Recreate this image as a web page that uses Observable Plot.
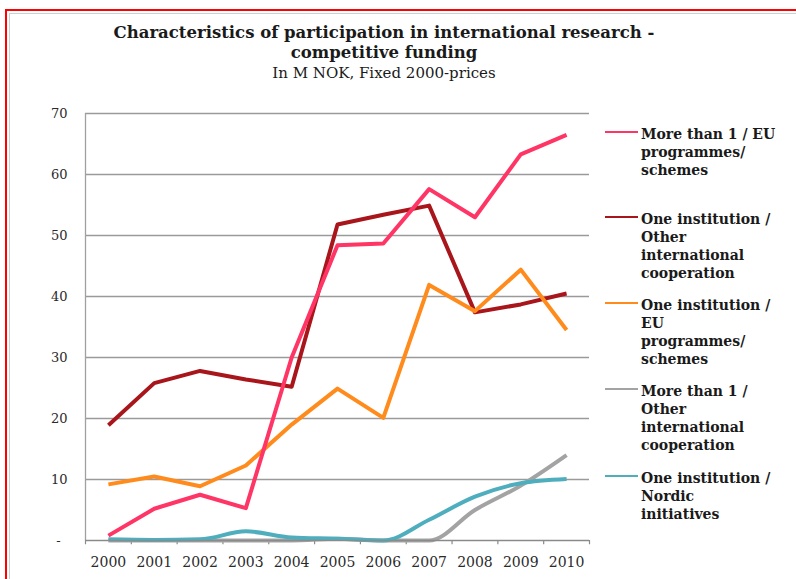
<!DOCTYPE html>
<html>
<head>
<meta charset="utf-8">
<script src="https://cdn.jsdelivr.net/npm/d3@7"></script>
<script src="https://cdn.jsdelivr.net/npm/@observablehq/plot@0.6"></script>
<style>
  html, body { margin: 0; padding: 0; background: #fff; }
  #wrap { position: relative; width: 796px; height: 579px; overflow: hidden; background: #fff; }
  #red { position: absolute; left: 5px; top: 9px; width: 900px; height: 700px; border-top: 2px solid #ff0000; border-left: 2px solid #ff0000; }
  #inner { position: absolute; left: 9px; top: 13px; width: 900px; height: 700px; border-top: 1px solid #c9d2d2; border-left: 1px solid #c9d2d2; }
  #chart { position: absolute; left: 0; top: 0; }
  .t { position: absolute; left: 0; width: 768px; text-align: center; font-family: "DejaVu Serif", serif; color: #1a1a1a; white-space: nowrap; }
  .title { font-weight: bold; font-size: 16.5px; }
  .sub { font-size: 15px; }
  .leg { position: absolute; left: 641px; font-family: "DejaVu Serif", serif; font-weight: bold; font-size: 14px; line-height: 18px; color: #1a1a1a; white-space: nowrap; }
  .legline { position: absolute; left: 605px; width: 33px; height: 2px; }
</style>
</head>
<body>
<div id="wrap">
  <div id="red"></div>
  <div id="inner"></div>
  <div id="chart"></div>
  <div class="t title" style="top:23px;">Characteristics of participation in international research -</div>
  <div class="t title" style="top:43px;">competitive funding</div>
  <div class="t sub" style="top:64px;">In M NOK, Fixed 2000-prices</div>
  <div id="legend"></div>
</div>
<script>
const years = [2000, 2001, 2002, 2003, 2004, 2005, 2006, 2007, 2008, 2009, 2010];
const seriesNames = [
  "More than 1 / EU programmes/ schemes",
  "One institution / Other international cooperation",
  "One institution / EU programmes/ schemes",
  "More than 1 / Other international cooperation",
  "One institution / Nordic initiatives"
];
const legendLines = [
  ["More than 1 / EU", "programmes/", "schemes"],
  ["One institution /", "Other", "international", "cooperation"],
  ["One institution /", "EU", "programmes/", "schemes"],
  ["More than 1 /", "Other", "international", "cooperation"],
  ["One institution /", "Nordic", "initiatives"]
];
const moreThan1EU      = [0.8, 5.2, 7.5, 5.3, 30.0, 48.4, 48.7, 57.6, 53.0, 63.3, 66.5];
const oneInstOther     = [18.9, 25.8, 27.8, 26.4, 25.2, 51.8, 53.4, 54.9, 37.4, 38.7, 40.5];
const oneInstEU        = [9.2, 10.5, 8.9, 12.3, 19.0, 24.9, 20.1, 41.9, 37.6, 44.4, 34.5];
const moreThan1Other   = [0, 0, 0, 0, 0, 0.3, 0, 0, 5.0, 9.0, 14.0];
const oneInstNordic    = [0.2, 0.1, 0.2, 1.5, 0.5, 0.3, 0.0, 3.4, 7.2, 9.4, 10.1];
const seriesValues = [moreThan1EU, oneInstOther, oneInstEU, moreThan1Other, oneInstNordic];
const colors = ["#ff3566", "#a8151b", "#ff8b1c", "#a3a3a3", "#4eaebd"];
const yTicks = [0, 10, 20, 30, 40, 50, 60, 70];
const yTickLabels = ["-", "10", "20", "30", "40", "50", "60", "70"];
const bandEdges = [1999.5, 2000.5, 2001.5, 2002.5, 2003.5, 2004.5, 2005.5, 2006.5, 2007.5, 2008.5, 2009.5, 2010.5];

const rows = (i) => years.map((yr, j) => ({year: yr, value: seriesValues[i][j], series: seriesNames[i]}));
const drawOrder = [1, 2, 0, 3, 4];
const lineMarks = drawOrder.map(i => Plot.line(rows(i), {
  x: "year", y: "value", stroke: colors[i], strokeWidth: 4,
  curve: i >= 3 ? "monotone-x" : "linear", strokeLinejoin: "round", strokeLinecap: "butt"
}));

const font = "DejaVu Serif, serif";
const chart = Plot.plot({
  width: 796,
  height: 579,
  marginLeft: 85,
  marginRight: 207,
  marginTop: 113,
  marginBottom: 39,
  style: {background: "transparent", fontFamily: font},
  x: {domain: [1999.5, 2010.5], axis: null},
  y: {domain: [0, 70], axis: null},
  marks: [
    Plot.ruleY(yTicks.filter(d => d > 0), {x1: 1999.5, x2: 2010.5, stroke: "#9a9a9a", strokeWidth: 1.3}),
    Plot.ruleX([1999.5], {y1: 0, y2: 70, stroke: "#a0a0a0", strokeWidth: 1.3}),
    Plot.ruleX(bandEdges, {y1: 0, y2: -0.7, stroke: "#8a8a8a", strokeWidth: 1.2}),
    ...lineMarks,
    Plot.ruleY([0], {x1: 1999.5, x2: 2010.5, stroke: "#8a8a8a", strokeWidth: 1.5}),
    Plot.text(years, {x: d => d, y: 0, dy: 22, text: d => String(d), fontSize: 14, fill: "#2a2a2a", fontFamily: font}),
    Plot.text(yTicks.filter(d => d > 0), {x: 1999.5, y: d => d, dx: -18, text: d => yTickLabels[yTicks.indexOf(d)], textAnchor: "end", fontSize: 13, fill: "#2a2a2a", fontFamily: font}),
    Plot.text([0], {x: 1999.5, y: d => d, dx: -27, text: d => yTickLabels[0], textAnchor: "middle", fontSize: 13, fill: "#2a2a2a", fontFamily: font})
  ]
});
document.getElementById("chart").appendChild(chart);

// legend
const legendBaselines = [139, 224, 310, 396, 483];
const leg = document.getElementById("legend");
seriesNames.forEach((name, i) => {
  const ln = document.createElement("div");
  ln.className = "legline";
  ln.style.top = (legendBaselines[i] - 8) + "px";
  ln.style.background = colors[i];
  leg.appendChild(ln);
  const tx = document.createElement("div");
  tx.className = "leg";
  tx.style.top = (legendBaselines[i] - 14) + "px";
  tx.innerHTML = legendLines[i].join("<br>");
  leg.appendChild(tx);
});
</script>
</body>
</html>
